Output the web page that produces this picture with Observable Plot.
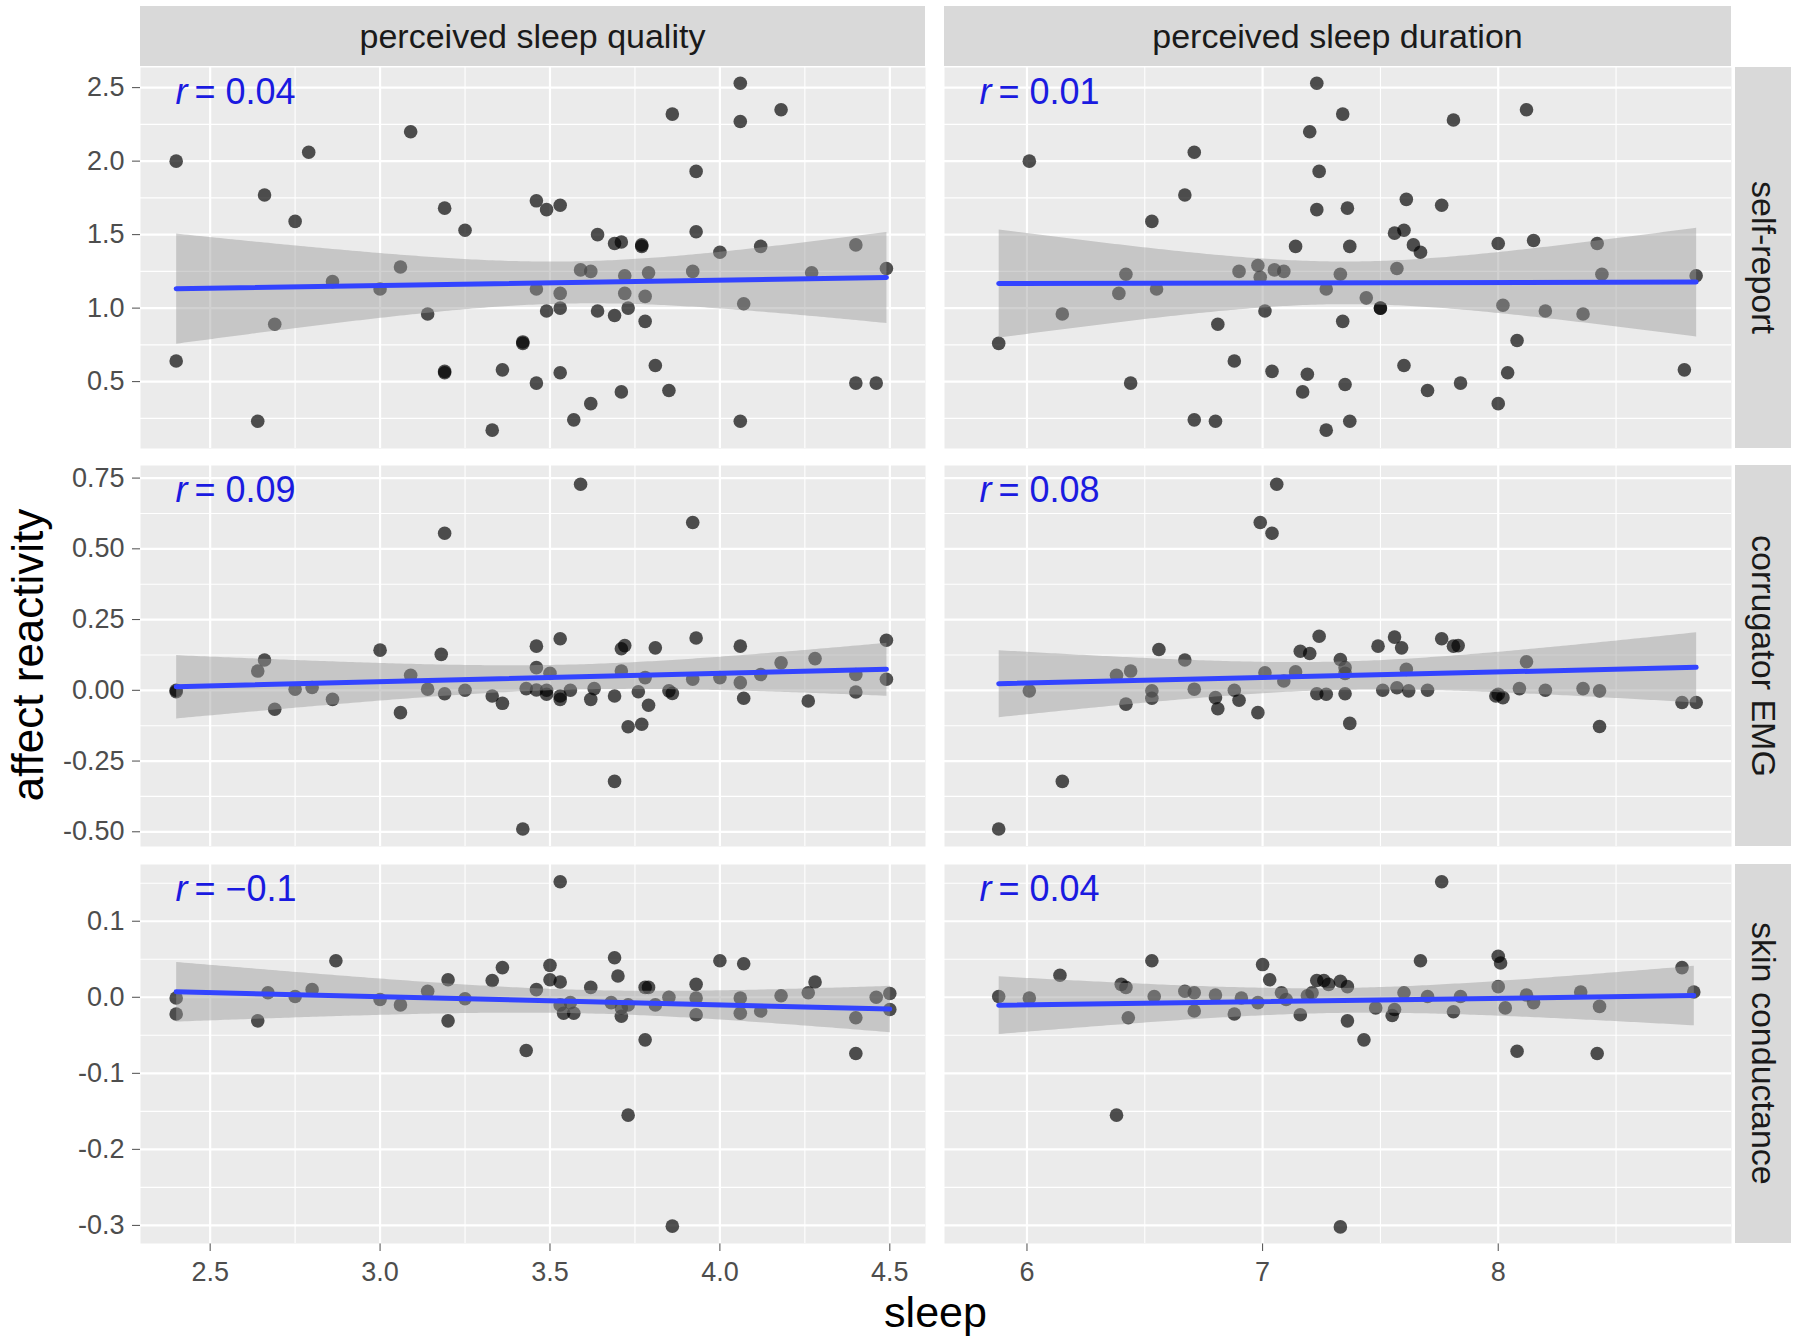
<!DOCTYPE html>
<html>
<head>
<meta charset="utf-8">
<script src="https://cdn.jsdelivr.net/npm/d3@7"></script>
<script src="https://cdn.jsdelivr.net/npm/@observablehq/plot@0.6"></script>
<style>
  body { margin: 0; background: #ffffff; font-family: "Liberation Sans", Arial, sans-serif; }
  #chart { position: relative; width: 1800px; height: 1341px; overflow: hidden; background: #fff; }
  .strip { position: absolute; background: #d9d9d9; color: #1a1a1a; display: flex; align-items: center; justify-content: center; font-size: 34px; }
  .stripR { writing-mode: vertical-rl; }
  .panel { position: absolute; }
  .title { position: absolute; color: #000; font-size: 43px; white-space: nowrap; }
</style>
</head>
<body>
<div id="chart"></div>
<script>
// ---------- categories / labels ----------
const columnLabels = ["perceived sleep quality", "perceived sleep duration"];
const rowLabels = ["self-report", "corrugator EMG", "skin conductance"];
const rValues = [["0.04", "0.01"], ["0.09", "0.08"], ["\u22120.1", "0.04"]];
const xTitle = "sleep";
const yTitle = "affect reactivity";

// ---------- tick labels ----------
const qualityTicks = [2.5, 3.0, 3.5, 4.0, 4.5];
const qualityMinor = [2.75, 3.25, 3.75, 4.25];
const durationTicks = [6, 7, 8];
const durationMinor = [6.5, 7.5, 8.5];
const selfTicks = [0.5, 1.0, 1.5, 2.0, 2.5];
const selfMinor = [0.25, 0.75, 1.25, 1.75, 2.25];
const emgTicks = [-0.5, -0.25, 0, 0.25, 0.5, 0.75];
const emgMinor = [-0.375, -0.125, 0.125, 0.375, 0.625];
const scTicks = [-0.3, -0.2, -0.1, 0, 0.1];
const scMinor = [-0.25, -0.15, -0.05, 0.05, 0.15];

// ---------- series values ----------
const selfQualityX = [4.06,3.86,4.06,4.18,3.09,2.79,2.40,3.93,2.66,2.75,3.19,3.46,3.49,3.53,3.25,3.93,3.64,3.69,3.71,3.77,3.77,4.00,4.12,4.40,3.06,3.59,3.62,3.92,4.49,4.27,3.79,3.72,2.86,3.00,3.46,3.53,3.72,3.78,4.07,3.49,3.53,3.64,3.69,3.73,3.14,3.78,2.69,3.42,3.42,2.40,3.81,3.19,3.19,3.36,3.53,3.46,4.40,4.46,3.71,3.85,3.62,3.57,4.06,2.64,3.33];
const selfQualityY = [2.53,2.32,2.27,2.35,2.20,2.06,2.00,1.93,1.77,1.59,1.68,1.73,1.67,1.70,1.53,1.52,1.50,1.44,1.45,1.43,1.42,1.38,1.42,1.43,1.28,1.26,1.25,1.25,1.27,1.24,1.24,1.22,1.18,1.13,1.13,1.10,1.10,1.08,1.03,0.98,1.00,0.98,0.95,1.00,0.96,0.91,0.89,0.77,0.76,0.64,0.61,0.56,0.57,0.58,0.56,0.49,0.49,0.49,0.43,0.44,0.35,0.24,0.23,0.23,0.17];

const selfDurationX = [7.23,7.34,7.81,8.12,7.20,6.71,6.01,7.24,6.67,6.53,7.23,7.36,7.61,7.76,7.56,7.60,7.64,7.67,7.14,7.37,8.00,8.15,8.42,6.98,6.90,7.05,7.09,7.57,7.33,8.44,8.84,6.42,6.39,6.55,6.99,7.27,7.44,7.50,7.50,8.02,8.20,8.36,7.01,6.15,6.81,7.34,5.88,8.08,6.88,7.60,7.04,7.19,8.04,8.79,6.44,7.35,7.84,7.17,7.70,8.00,6.71,6.80,7.37,7.27];
const selfDurationY = [2.53,2.32,2.28,2.35,2.20,2.06,2.00,1.93,1.77,1.59,1.67,1.68,1.74,1.70,1.51,1.53,1.43,1.38,1.42,1.42,1.44,1.46,1.44,1.29,1.25,1.26,1.25,1.27,1.23,1.23,1.22,1.23,1.10,1.13,1.21,1.13,1.07,1.00,1.00,1.02,0.98,0.96,0.98,0.96,0.89,0.91,0.76,0.78,0.64,0.61,0.57,0.55,0.56,0.58,0.49,0.48,0.49,0.43,0.44,0.35,0.24,0.23,0.23,0.17];

const emgQualityX = [3.59,3.92,3.19,3.53,3.93,4.49,3.00,3.46,3.71,3.72,3.81,4.06,3.18,2.66,2.64,4.28,4.18,3.46,3.50,3.09,3.71,3.78,4.00,4.12,4.40,4.49,3.92,4.06,2.40,2.40,2.75,2.80,3.14,3.19,3.25,3.43,3.46,3.49,3.53,3.53,3.56,3.62,3.63,3.69,3.76,3.86,4.07,4.26,4.40,2.69,2.86,3.06,3.33,3.36,3.79,3.73,3.77,3.69,3.42,3.49,3.85];
const emgQualityY = [0.728,0.593,0.555,0.182,0.185,0.177,0.142,0.156,0.147,0.158,0.150,0.156,0.127,0.107,0.068,0.112,0.097,0.080,0.060,0.053,0.068,0.045,0.045,0.056,0.056,0.039,0.039,0.027,0.000,-0.005,0.004,0.010,0.004,-0.012,0.000,0.006,0.001,-0.014,-0.020,-0.032,0.000,-0.032,0.006,-0.020,-0.005,-0.011,-0.028,-0.038,-0.006,-0.067,-0.032,-0.079,-0.020,-0.046,-0.053,-0.129,-0.120,-0.322,-0.490,0.000,-0.002];

const emgDurationX = [7.06,6.99,7.04,7.24,7.56,7.59,7.49,7.76,7.81,7.83,6.56,7.16,7.20,6.67,7.33,7.35,8.12,6.44,6.38,7.01,7.14,7.61,7.09,6.01,6.53,6.71,6.88,7.23,7.27,7.35,7.51,7.57,7.62,7.70,8.00,8.02,8.09,8.20,8.36,8.43,8.78,8.84,6.42,6.53,6.80,6.81,6.90,6.98,7.37,8.43,6.15,5.88,7.35,7.99];
const emgDurationY = [0.728,0.593,0.555,0.191,0.188,0.150,0.156,0.182,0.156,0.158,0.144,0.138,0.130,0.107,0.109,0.080,0.101,0.068,0.053,0.062,0.065,0.074,0.033,-0.002,-0.002,0.004,0.000,-0.012,-0.014,-0.012,0.000,0.009,-0.002,0.000,-0.014,-0.026,0.006,0.000,0.006,-0.002,-0.043,-0.043,-0.049,-0.028,-0.026,-0.065,-0.035,-0.079,-0.117,-0.128,-0.322,-0.490,0.060,-0.020];

const scQualityX = [3.53,2.87,3.69,4.00,4.07,3.36,3.50,3.70,3.20,3.33,3.50,3.53,3.93,4.28,3.62,3.78,3.79,3.46,3.14,2.80,2.67,4.26,4.18,3.93,4.06,4.46,4.50,2.40,2.40,2.75,3.00,3.25,3.06,3.53,3.56,3.57,3.54,3.71,3.73,3.71,3.81,3.85,3.93,4.06,4.12,4.50,2.64,3.20,4.40,3.78,3.43,4.40,3.73,3.86,3.68];
const scQualityY = [0.152,0.048,0.052,0.048,0.044,0.039,0.042,0.028,0.023,0.022,0.023,0.020,0.017,0.020,0.013,0.013,0.013,0.010,0.008,0.010,0.006,0.006,0.002,-0.001,-0.001,0.000,0.005,-0.001,-0.022,0.001,-0.003,-0.002,-0.010,-0.010,-0.007,-0.021,-0.021,-0.014,-0.010,-0.025,-0.010,0.000,-0.023,-0.021,-0.018,-0.016,-0.031,-0.031,-0.027,-0.056,-0.070,-0.074,-0.155,-0.301,-0.007];

const scDurationX = [7.76,6.53,7.00,7.67,8.00,8.01,8.78,6.14,6.40,6.42,7.03,7.23,7.26,7.28,7.33,7.36,8.00,5.88,6.01,6.54,6.67,6.71,6.80,6.91,6.98,7.08,7.19,7.21,7.60,7.70,7.84,8.12,8.35,8.83,8.03,8.15,8.43,6.71,6.88,7.16,7.48,7.55,7.56,7.81,6.43,7.36,7.43,8.08,8.42,6.38,7.33,7.10];
const scDurationY = [0.152,0.048,0.043,0.048,0.054,0.045,0.039,0.029,0.017,0.013,0.023,0.022,0.022,0.017,0.021,0.014,0.014,0.001,-0.001,0.001,0.008,0.006,0.003,-0.001,-0.007,0.006,0.002,0.006,0.006,0.001,0.001,0.003,0.007,0.007,-0.014,-0.007,-0.012,-0.018,-0.022,-0.023,-0.014,-0.024,-0.016,-0.019,-0.027,-0.031,-0.056,-0.071,-0.074,-0.155,-0.302,-0.003];

// ---------- layout ----------
const colLeft = [140, 944], colWidth = [785, 787];
const rowTop = [67, 465, 864], rowHeight = [381, 381, 379];
const stripTop = 6, stripH = 60;
const rightStripLeft = 1735, rightStripW = 56;

const xCfg = [
  {domain: [2.295, 4.605], ticks: qualityTicks, minor: qualityMinor, fmt: d => d.toFixed(1)},
  {domain: [5.65, 8.99], ticks: durationTicks, minor: durationMinor, fmt: d => d.toFixed(0)}
];
const yCfg = [
  {domain: [0.045, 2.637], ticks: selfTicks, minor: selfMinor, fmt: d => d.toFixed(1)},
  {domain: [-0.552, 0.7945], ticks: emgTicks, minor: emgMinor, fmt: d => d.toFixed(2)},
  {domain: [-0.3238, 0.1746], ticks: scTicks, minor: scMinor, fmt: d => d.toFixed(1)}
];
const series = [
  [[selfQualityX, selfQualityY], [selfDurationX, selfDurationY]],
  [[emgQualityX, emgQualityY], [emgDurationX, emgDurationY]],
  [[scQualityX, scQualityY], [scDurationX, scDurationY]]
];

const chart = document.getElementById("chart");
const FONT = '"Liberation Sans", Arial, sans-serif';
const R_COLOR = "#1a1ae0";

function makePanel(r, c) {
  const [xs, ys] = series[r][c];
  const data = xs.map((x, i) => ({x, y: ys[i]}));
  const showY = c === 0, showX = r === 2;
  const mL = showY ? 140 : 0, mB = showX ? 70 : 0;
  const xc = xCfg[c], yc = yCfg[r];
  const white = {stroke: "#ffffff", strokeOpacity: 1};
  return Plot.plot({
    width: colWidth[c] + mL,
    height: rowHeight[r] + mB,
    marginLeft: mL, marginRight: 0, marginTop: 0, marginBottom: mB,
    style: {background: "transparent", color: "#4d4d4d", fontFamily: FONT, fontSize: "27px", overflow: "visible"},
    x: {domain: xc.domain, axis: showX ? "bottom" : null, ticks: xc.ticks, tickFormat: xc.fmt, tickSize: 8, tickPadding: 10, label: null},
    y: {domain: yc.domain, axis: showY ? "left" : null, ticks: yc.ticks, tickFormat: yc.fmt, tickSize: 8, tickPadding: 8, label: null},
    marks: [
      Plot.frame({fill: "#ebebeb", stroke: "none"}),
      Plot.gridX(xc.minor, {...white, strokeWidth: 1.1}),
      Plot.gridY(yc.minor, {...white, strokeWidth: 1.1}),
      Plot.gridX(xc.ticks, {...white, strokeWidth: 2.2}),
      Plot.gridY(yc.ticks, {...white, strokeWidth: 2.2}),
      Plot.dot(data, {x: "x", y: "y", r: 6.8, fill: "#000000", fillOpacity: 0.68, stroke: "none"}),
      Plot.linearRegressionY(data, {x: "x", y: "y", stroke: "#3344ff", strokeWidth: 5, fill: "#999999", fillOpacity: 0.45, ci: 0.95}),
      Plot.text(["r"], {frameAnchor: "top-left", dx: 35, dy: 25, lineAnchor: "middle", textAnchor: "start", fill: R_COLOR, fontSize: 36, fontStyle: "italic", fontFamily: FONT}),
      Plot.text(["= " + rValues[r][c]], {frameAnchor: "top-left", dx: 54, dy: 25, lineAnchor: "middle", textAnchor: "start", fill: R_COLOR, fontSize: 36, fontFamily: FONT})
    ]
  });
}

for (let r = 0; r < 3; r++) {
  for (let c = 0; c < 2; c++) {
    const svg = makePanel(r, c);
    const wrap = document.createElement("div");
    wrap.className = "panel";
    wrap.style.left = (c === 0 ? 0 : colLeft[c]) + "px";
    wrap.style.top = rowTop[r] + "px";
    wrap.appendChild(svg);
    chart.appendChild(wrap);
  }
}

// strips (top)
columnLabels.forEach((lab, c) => {
  const d = document.createElement("div");
  d.className = "strip";
  Object.assign(d.style, {left: colLeft[c] + "px", top: stripTop + "px", width: colWidth[c] + "px", height: stripH + "px"});
  d.textContent = lab;
  chart.appendChild(d);
});
// strips (right)
rowLabels.forEach((lab, r) => {
  const d = document.createElement("div");
  d.className = "strip stripR";
  Object.assign(d.style, {left: rightStripLeft + "px", top: rowTop[r] + "px", width: rightStripW + "px", height: rowHeight[r] + "px"});
  d.textContent = lab;
  chart.appendChild(d);
});

// axis titles
const xt = document.createElement("div");
xt.className = "title";
xt.textContent = xTitle;
Object.assign(xt.style, {left: "935.5px", top: "1312px", transform: "translate(-50%, -50%)"});
chart.appendChild(xt);

const yt = document.createElement("div");
yt.className = "title";
yt.textContent = yTitle;
yt.style.fontSize = "44px";
Object.assign(yt.style, {left: "28px", top: "655px", transform: "translate(-50%, -50%) rotate(-90deg)"});
chart.appendChild(yt);
</script>
</body>
</html>
